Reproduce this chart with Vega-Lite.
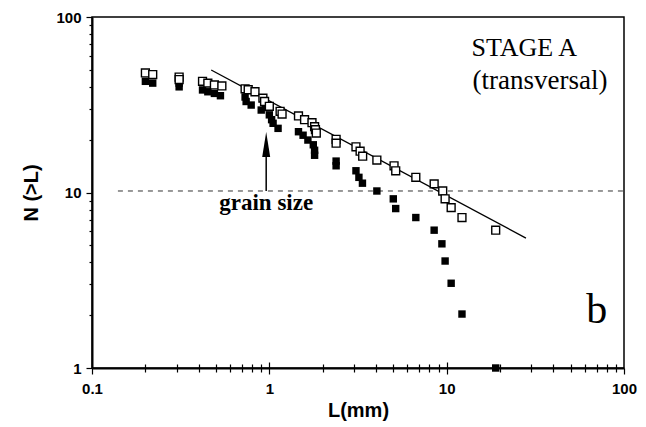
{
  "$schema": "https://vega.github.io/schema/vega-lite/v6.json",
  "autosize": "none",
  "width": 532,
  "height": 351,
  "padding": {"left": 92, "top": 17, "right": 22, "bottom": 59},
  "background": "white",
  "config": {
    "view": {"stroke": "black", "strokeWidth": 1.5},
    "axis": {
      "domainColor": "black", "domainWidth": 2, "tickColor": "black", "tickWidth": 1.2,
      "grid": false, "labelFont": "Liberation Sans", "labelFontWeight": "bold", "labelFontSize": 15,
      "labelColor": "black", "titleFont": "Liberation Sans", "titleFontWeight": "bold",
      "titleFontSize": 20, "titleColor": "black", "labelOverlap": false, "labelFlush": false
    }
  },
  "resolve": {"axis": {"x": "independent"}},
  "datasets": {
    "pts": [
      {"L": 0.2, "N": 48, "s": "open"}, {"L": 0.22, "N": 47, "s": "open"},
      {"L": 0.31, "N": 45.5, "s": "open"}, {"L": 0.31, "N": 44, "s": "open"},
      {"L": 0.42, "N": 43, "s": "open"}, {"L": 0.45, "N": 42, "s": "open"},
      {"L": 0.49, "N": 41, "s": "open"}, {"L": 0.54, "N": 40.5, "s": "open"},
      {"L": 0.73, "N": 39, "s": "open"}, {"L": 0.76, "N": 38.5, "s": "open"},
      {"L": 0.83, "N": 37.5, "s": "open"}, {"L": 0.92, "N": 34.5, "s": "open"},
      {"L": 0.94, "N": 33, "s": "open"}, {"L": 1.0, "N": 31, "s": "open"},
      {"L": 1.15, "N": 29, "s": "open"}, {"L": 1.18, "N": 28, "s": "open"},
      {"L": 1.46, "N": 27.3, "s": "open"}, {"L": 1.58, "N": 26, "s": "open"},
      {"L": 1.74, "N": 25, "s": "open"}, {"L": 1.8, "N": 23.7, "s": "open"},
      {"L": 1.82, "N": 22.8, "s": "open"}, {"L": 1.84, "N": 21.8, "s": "open"},
      {"L": 2.38, "N": 20.1, "s": "open"}, {"L": 2.38, "N": 19.1, "s": "open"},
      {"L": 3.08, "N": 18.2, "s": "open"}, {"L": 3.25, "N": 17.2, "s": "open"},
      {"L": 3.36, "N": 16.1, "s": "open"}, {"L": 4.04, "N": 15.3, "s": "open"},
      {"L": 5.05, "N": 14.2, "s": "open"}, {"L": 5.16, "N": 13.3, "s": "open"},
      {"L": 6.7, "N": 12.2, "s": "open"}, {"L": 8.5, "N": 11.2, "s": "open"},
      {"L": 9.5, "N": 10.2, "s": "open"}, {"L": 9.8, "N": 9.2, "s": "open"},
      {"L": 10.6, "N": 8.2, "s": "open"}, {"L": 12.2, "N": 7.2, "s": "open"},
      {"L": 18.9, "N": 6.1, "s": "open"},
      {"L": 0.2, "N": 43, "s": "filled"}, {"L": 0.22, "N": 42, "s": "filled"},
      {"L": 0.31, "N": 42, "s": "filled"}, {"L": 0.31, "N": 40, "s": "filled"},
      {"L": 0.42, "N": 38.4, "s": "filled"}, {"L": 0.45, "N": 37.5, "s": "filled"},
      {"L": 0.49, "N": 36.7, "s": "filled"}, {"L": 0.53, "N": 35.6, "s": "filled"},
      {"L": 0.73, "N": 35, "s": "filled"}, {"L": 0.74, "N": 33, "s": "filled"},
      {"L": 0.79, "N": 31.5, "s": "filled"}, {"L": 0.9, "N": 29.5, "s": "filled"},
      {"L": 0.95, "N": 30.5, "s": "filled"}, {"L": 1.0, "N": 27.7, "s": "filled"},
      {"L": 1.03, "N": 26, "s": "filled"}, {"L": 1.05, "N": 24.8, "s": "filled"},
      {"L": 1.12, "N": 23.2, "s": "filled"}, {"L": 1.46, "N": 22.2, "s": "filled"},
      {"L": 1.55, "N": 21.2, "s": "filled"}, {"L": 1.65, "N": 19.9, "s": "filled"},
      {"L": 1.77, "N": 18.7, "s": "filled"}, {"L": 1.8, "N": 17.4, "s": "filled"},
      {"L": 1.8, "N": 16.3, "s": "filled"}, {"L": 2.38, "N": 15.1, "s": "filled"},
      {"L": 2.38, "N": 14.2, "s": "filled"}, {"L": 3.08, "N": 13.3, "s": "filled"},
      {"L": 3.2, "N": 12.2, "s": "filled"}, {"L": 3.35, "N": 11.3, "s": "filled"},
      {"L": 4.04, "N": 10.2, "s": "filled"}, {"L": 5.0, "N": 9.2, "s": "filled"},
      {"L": 5.16, "N": 8.1, "s": "filled"}, {"L": 6.7, "N": 7.2, "s": "filled"},
      {"L": 8.5, "N": 6.1, "s": "filled"}, {"L": 9.4, "N": 5.1, "s": "filled"},
      {"L": 9.8, "N": 4.07, "s": "filled"}, {"L": 10.6, "N": 3.04, "s": "filled"},
      {"L": 12.2, "N": 2.03, "s": "filled"}, {"L": 18.9, "N": 1.0, "s": "filled"}
    ],
    "fit": [{"L": 0.47, "N": 49.9}, {"L": 28, "N": 5.5}],
    "grain": [{"L": 0.14, "N": 10.2}, {"L": 100, "N": 10.2}],
    "shaft": [{"L": 0.96, "N": 10.2, "N2": 17}],
    "head": [{"L": 0.96, "N": 18.8}],
    "labels": [
      {"L": 27.4, "N": 60, "t": "STAGE A", "k": "stage"},
      {"L": 33.6, "N": 38.9, "t": "(transversal)", "k": "stage2"},
      {"L": 0.96, "N": 7.94, "t": "grain size", "k": "grain"},
      {"L": 70.2, "N": 1.8, "t": "b", "k": "panel"}
    ]
  },
  "layer": [
    {
      "data": {"name": "grain"},
      "mark": {"type": "line", "color": "#333", "strokeWidth": 1, "strokeDash": [5, 5]},
      "encoding": {
        "x": {"field": "L", "type": "quantitative",
          "scale": {"type": "log", "domain": [0.1, 100], "nice": false},
          "axis": {
            "orient": "bottom",
            "title": "L(mm)", "titlePadding": 4,
            "values": [0.1,0.2,0.3,0.4,0.5,0.6,0.7,0.8,0.9,1,2,3,4,5,6,7,8,9,10,20,30,40,50,60,70,80,90,100],
            "labelExpr": "datum.value == 0.1 ? '0.1' : datum.value == 1 ? '1' : datum.value == 10 ? '10' : datum.value == 100 ? '100' : ''",
            "tickSize": {"condition": {"test": "datum.value == 0.1 || datum.value == 1 || datum.value == 10 || datum.value == 100", "value": 6}, "value": 4},
            "labelPadding": 7
          }},
        "y": {"field": "N", "type": "quantitative",
          "scale": {"type": "log", "domain": [1, 100], "nice": false},
          "axis": {
            "title": "N (>L)", "titlePadding": 14,
            "values": [1,2,3,4,5,6,7,8,9,10,20,30,40,50,60,70,80,90,100],
            "labelExpr": "datum.value == 1 ? '1' : datum.value == 10 ? '10' : datum.value == 100 ? '100' : ''",
            "tickSize": {"condition": {"test": "datum.value == 1 || datum.value == 10 || datum.value == 100", "value": 6}, "value": 3},
            "labelPadding": 5
          }}
      }
    },
    {
      "data": {"name": "fit"},
      "mark": {"type": "line", "color": "black", "strokeWidth": 1.3},
      "encoding": {
        "x": {"field": "L", "type": "quantitative",
          "axis": {
            "orient": "bottom", "title": null, "labels": false, "domain": false,
            "values": [0.2,0.3,0.4,0.5,0.6,0.7,0.8,0.9,1,2,3,4,5,6,7,8,9,10,20,30,40,50,60,70,80,90],
            "tickSize": {"condition": {"test": "datum.value == 1 || datum.value == 10", "value": -6}, "value": -4}
          }},
        "y": {"field": "N", "type": "quantitative"}}
    },
    {
      "data": {"name": "shaft"},
      "mark": {"type": "rule", "color": "black", "strokeWidth": 1.5},
      "encoding": {"x": {"field": "L", "type": "quantitative", "axis": null}, "y": {"field": "N", "type": "quantitative"}, "y2": {"field": "N2"}}
    },
    {
      "data": {"name": "head"},
      "mark": {"type": "point", "shape": "M0,-1L0.32,1L-0.32,1Z", "size": 625, "filled": true, "color": "black", "opacity": 1},
      "encoding": {"x": {"field": "L", "type": "quantitative", "axis": null}, "y": {"field": "N", "type": "quantitative"}}
    },
    {
      "data": {"name": "pts"},
      "transform": [{"filter": "datum.s == 'filled'"}],
      "mark": {"type": "point", "shape": "square", "size": 55, "filled": true, "color": "black", "opacity": 1, "clip": false},
      "encoding": {"x": {"field": "L", "type": "quantitative", "axis": null}, "y": {"field": "N", "type": "quantitative"}}
    },
    {
      "data": {"name": "pts"},
      "transform": [{"filter": "datum.s == 'open'"}],
      "mark": {"type": "point", "shape": "square", "size": 62, "filled": true, "fill": "white", "stroke": "black", "strokeWidth": 1.4, "opacity": 1},
      "encoding": {"x": {"field": "L", "type": "quantitative", "axis": null}, "y": {"field": "N", "type": "quantitative"}}
    },
    {
      "data": {"name": "labels"},
      "transform": [{"filter": "datum.k == 'stage'"}],
      "mark": {"type": "text", "font": "Liberation Serif", "fontSize": 26, "align": "center", "baseline": "alphabetic", "color": "black"},
      "encoding": {"x": {"field": "L", "type": "quantitative", "axis": null}, "y": {"field": "N", "type": "quantitative"}, "text": {"field": "t"}}
    },
    {
      "data": {"name": "labels"},
      "transform": [{"filter": "datum.k == 'stage2'"}],
      "mark": {"type": "text", "font": "Liberation Serif", "fontSize": 27, "align": "center", "baseline": "alphabetic", "color": "black"},
      "encoding": {"x": {"field": "L", "type": "quantitative", "axis": null}, "y": {"field": "N", "type": "quantitative"}, "text": {"field": "t"}}
    },
    {
      "data": {"name": "labels"},
      "transform": [{"filter": "datum.k == 'grain'"}],
      "mark": {"type": "text", "font": "Liberation Serif", "fontSize": 23, "fontWeight": "bold", "align": "center", "baseline": "alphabetic", "color": "black"},
      "encoding": {"x": {"field": "L", "type": "quantitative", "axis": null}, "y": {"field": "N", "type": "quantitative"}, "text": {"field": "t"}}
    },
    {
      "data": {"name": "labels"},
      "transform": [{"filter": "datum.k == 'panel'"}],
      "mark": {"type": "text", "font": "Liberation Serif", "fontSize": 42, "align": "center", "baseline": "alphabetic", "color": "black"},
      "encoding": {"x": {"field": "L", "type": "quantitative", "axis": null}, "y": {"field": "N", "type": "quantitative"}, "text": {"field": "t"}}
    }
  ]
}
